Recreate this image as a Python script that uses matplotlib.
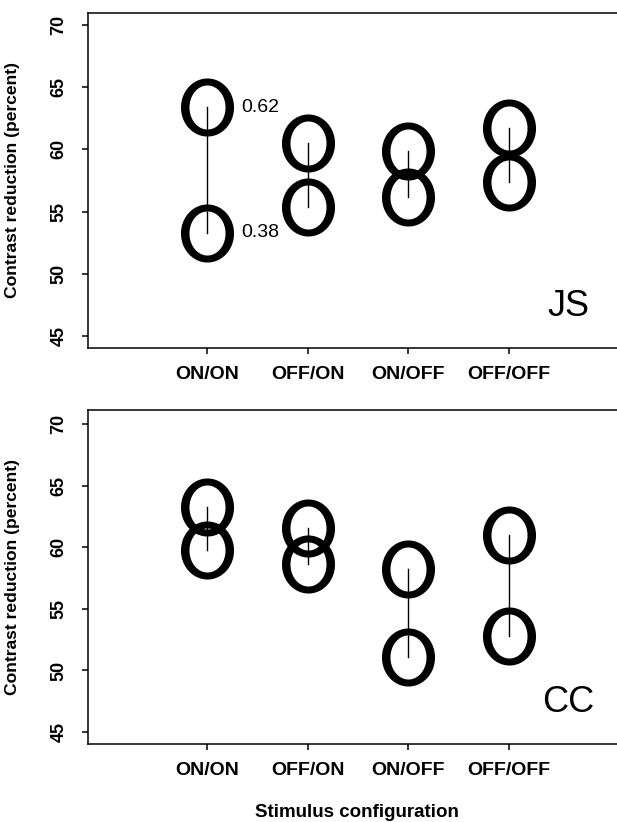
import matplotlib
matplotlib.use('Agg')
import matplotlib.pyplot as plt
import numpy as np
from matplotlib.path import Path

plt.rcParams['font.family'] = ['Liberation Sans', 'DejaVu Sans']

conditions = ['ON/ON', 'OFF/ON', 'ON/OFF', 'OFF/OFF']
positions = [1, 2, 3, 4]

# upper / lower estimate for each configuration
js_high = [63.4, 60.5, 59.9, 61.7]
js_low = [53.3, 55.4, 56.2, 57.4]
cc_high = [63.3, 61.6, 58.2, 61.0]
cc_low = [59.8, 58.6, 51.1, 52.8]

weights = ['0.62', '0.38']


def ring_marker():
    # an "O" shaped ring, thicker at the sides like a printed letter O
    t = np.linspace(0, 2 * np.pi, 120)
    w, h = 53.0, 58.0
    ow, oh = 0.5 * w / h, 0.5
    iw, ih = 0.5 * (w - 17) / h, 0.5 * (h - 14) / h
    outer = np.column_stack([ow * np.cos(t), oh * np.sin(t)])
    inner = np.column_stack([iw * np.cos(-t), ih * np.sin(-t)])
    verts = np.vstack([outer, inner])
    codes = ([Path.MOVETO] + [Path.LINETO] * (len(t) - 2) + [Path.CLOSEPOLY]) * 2
    return Path(verts, codes)


RING = ring_marker()


def panel(ax, high, low, name, ylim, label_weights=False):
    for x, hi, lo in zip(positions, high, low):
        ax.plot([x, x], [lo, hi], color='black', lw=1.0, zorder=2)
    ax.plot(positions, high, linestyle='none', marker=RING, markersize=41.8,
            markerfacecolor='black', markeredgewidth=0, zorder=3)
    ax.plot(positions, low, linestyle='none', marker=RING, markersize=41.8,
            markerfacecolor='black', markeredgewidth=0, zorder=3)

    if label_weights:
        ax.annotate(weights[0], (positions[0], high[0]), xytext=(24, 0),
                    textcoords='offset points', va='center', ha='left', fontsize=14)
        ax.annotate(weights[1], (positions[0], low[0]), xytext=(24, 0),
                    textcoords='offset points', va='center', ha='left', fontsize=14)

    ax.text(0.89, 0.125, name, transform=ax.transAxes, fontsize=26,
            ha='center', va='center')

    ax.set_xlim(-0.19, 5.19)
    ax.set_ylim(*ylim)
    ax.set_xticks(positions)
    ax.set_xticklabels(conditions, fontsize=14, fontweight='bold')
    ax.set_yticks([45, 50, 55, 60, 65, 70])
    for lab in ax.get_yticklabels():
        lab.set_rotation(90)
        lab.set_va('center')
        lab.set_fontsize(13)
        lab.set_fontweight('bold')
    ax.tick_params(axis='y', length=4.3, width=1.1, pad=10.5)
    ax.tick_params(axis='x', length=4.3, width=1.1, pad=8.8)
    ax.spines['right'].set_visible(False)
    for s in ['left', 'top', 'bottom']:
        ax.spines[s].set_linewidth(1.1)
    ax.set_ylabel('Contrast reduction (percent)', fontsize=12.6, fontweight='bold')
    ax.yaxis.set_label_coords(-0.125, 0.5)


fig = plt.figure(figsize=(6.17, 8.22), dpi=100)
ax1 = fig.add_axes([88 / 617, 1 - 348 / 822, 540 / 617, 335 / 822])
ax2 = fig.add_axes([88 / 617, 1 - 744 / 822, 540 / 617, 334 / 822])

panel(ax1, js_high, js_low, 'JS', (44.03, 70.97), label_weights=True)
panel(ax2, cc_high, cc_low, 'CC', (44.03, 71.14))

fig.text(357 / 617, 1 - 812 / 822, 'Stimulus configuration', fontsize=13.5,
         fontweight='bold', ha='center', va='center')

fig.savefig('out.png', dpi=100)
